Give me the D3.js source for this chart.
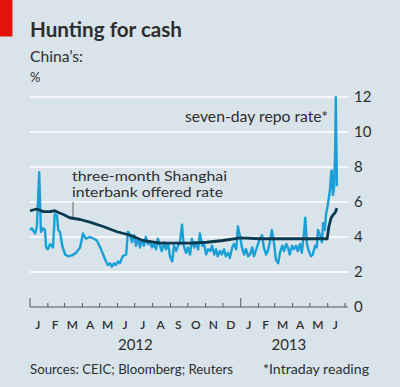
<!DOCTYPE html>
<html>
<head>
<meta charset="utf-8">
<script src="https://cdn.jsdelivr.net/npm/d3@7"></script>
<style>
  html, body { margin: 0; padding: 0; background: #d9e3ea; }
  svg { display: block; }
  text { font-family: Lato, "Open Sans", sans-serif; fill: #2e2e2e; }
</style>
</head>
<body>
<svg id="chart" width="400" height="387"></svg>
<script>
// ---- Data ----
const startDate = "2012-01-01";
const endDate = "2013-07-01";

// seven-day repo rate: days since 1 Jan 2012, values in %
const repoDays = [0,3,9,12,16,19,23,26,28,31,35,40,43,47,49,52,56,61,66,73,80,87,92,97,104,111,116,122,127,132,135,139,142,146,149,153,156,161,167,170,174,177,181,184,188,191,194,198,201,205,208,212,215,219,222,226,229,233,236,240,243,247,250,254,257,260,264,267,271,274,278,281,285,288,292,295,299,302,306,309,313,316,320,323,326,330,333,337,340,344,347,351,354,358,361,365,368,372,375,379,382,386,389,392,396,399,403,406,410,413,417,420,424,427,431,434,438,441,445,448,451,455,458,462,465,469,472,476,478,481,484,488,491,495,498,500,504,507,509,512,514,517,521,523,524,526,528,530,531,533];
const repoValues = [4.4,4.5,4.2,4.6,7.7,4.3,4.5,4.4,3.4,3.3,3.6,3.4,5.3,5.2,4.4,4.3,3.5,3.0,2.9,2.95,3.1,3.4,4.2,3.9,4.0,3.9,3.8,3.4,3.0,2.6,2.4,2.5,2.3,2.5,2.4,2.6,2.5,2.9,3.0,4.3,4.1,3.7,4.1,3.5,3.9,3.4,3.8,3.5,4.0,3.6,3.7,3.4,3.6,3.3,3.9,3.5,3.2,3.7,3.3,3.6,2.9,2.6,3.5,3.2,3.5,3.6,4.7,3.5,3.1,3.4,3.0,3.9,3.4,3.7,3.3,4.2,3.5,3.6,3.0,3.3,3.2,3.5,3.0,3.3,2.9,3.2,3.0,3.3,2.9,3.1,2.8,3.4,3.6,3.3,4.6,4.0,3.4,3.0,3.3,2.9,3.0,3.4,2.9,3.2,3.6,3.9,4.1,3.4,3.0,3.2,3.8,4.4,3.6,2.7,2.5,3.1,3.5,3.2,3.6,3.4,3.0,3.5,3.3,3.5,3.2,3.6,3.1,4.3,5.1,3.6,3.2,2.9,3.0,3.5,3.4,4.4,4.1,3.7,4.8,4.4,5.3,5.8,6.7,7.7,7.8,6.4,6.8,9.0,12.0,6.9];

// three-month Shanghai interbank offered rate
const shiborDays = [0,12,23,35,43,49,57,69,87,104,127,151,174,196,226,252,278,307,335,365,399,469,516,519,523,526,530,533];
const shiborValues = [5.5,5.6,5.45,5.45,5.5,5.4,5.3,5.1,5.0,4.85,4.6,4.3,4.1,3.8,3.65,3.65,3.65,3.7,3.8,3.95,3.9,3.9,3.9,4.6,5.1,5.25,5.4,5.65];

const yTicks = [0, 2, 4, 6, 8, 10, 12];
const monthLabels = ["J","F","M","A","M","J","J","A","S","O","N","D","J","F","M","A","M","J"];
const yearLabels = ["2012", "2013"];

// ---- Chart ----
const svg = d3.select("#chart");
const W = 400, H = 387;
svg.append("rect").attr("width", W).attr("height", H).attr("fill", "#d9e3ea");
svg.append("rect").attr("x", 0).attr("y", 0).attr("width", 12.5).attr("height", 36.5).attr("fill", "#e3120b");

const t0 = new Date(startDate + "T00:00:00Z");
const t1 = new Date(endDate + "T00:00:00Z");
const x = d3.scaleUtc().domain([t0, t1]).range([30, 345]);
const y = d3.scaleLinear().domain([0, 12]).range([307, 97]);
const xEnd = 348;

// gridlines
svg.append("g").selectAll("line").data(yTicks.filter(d => d > 0)).join("line")
  .attr("x1", 30).attr("x2", xEnd)
  .attr("y1", d => y(d)).attr("y2", d => y(d))
  .attr("stroke", "#ffffff").attr("stroke-width", 1.5);

// y labels
svg.append("g").selectAll("text").data(yTicks).join("text")
  .attr("x", 354).attr("y", d => y(d)).attr("dy", "0.36em")
  .attr("font-size", 15).text(d => d);

// x axis
const months = d3.utcMonth.range(t0, t1);
const axis = d3.axisBottom(x).tickValues(months).tickSize(0).tickFormat("");
const gx = svg.append("g").attr("transform", `translate(0,${y(0)})`).call(axis);
gx.select(".domain").remove();
svg.append("line").attr("x1", 30).attr("x2", xEnd).attr("y1", y(0)).attr("y2", y(0))
  .attr("stroke", "#555").attr("stroke-width", 1);
svg.append("g").selectAll("line").data(months.concat([t1])).join("line")
  .attr("x1", d => x(d)).attr("x2", d => x(d))
  .attr("y1", y(0)).attr("y2", d => d.getUTCMonth() === 0 ? y(0) - 9 : y(0) - 4)
  .attr("stroke", "#555").attr("stroke-width", 1);

// month labels
svg.append("g").selectAll("text").data(months).join("text")
  .attr("x", (d, i) => (x(d) + x(d3.utcMonth.offset(d, 1))) / 2 - 1)
  .attr("y", 329).attr("text-anchor", "middle")
  .attr("font-size", 12).attr("font-weight", 600).attr("fill", "#333")
  .text((d, i) => monthLabels[i]);

// year labels
const yearCenters = [
  (x(t0) + x(new Date("2013-01-01T00:00:00Z"))) / 2,
  (x(new Date("2013-01-01T00:00:00Z")) + x(t1)) / 2 - 4
];
svg.append("g").selectAll("text").data(yearLabels).join("text")
  .attr("x", (d, i) => yearCenters[i]).attr("y", 350)
  .attr("text-anchor", "middle").attr("font-size", 15).text(d => d);

// lines
const toDate = d => d3.utcDay.offset(t0, d);
const line = d3.line().x(d => x(toDate(d[0]))).y(d => y(d[1])).curve(d3.curveLinear);

svg.append("path").datum(d3.zip(repoDays, repoValues))
  .attr("d", line).attr("fill", "none")
  .attr("stroke", "#1a9fd6").attr("stroke-width", 2.4).attr("stroke-linejoin", "round");

svg.append("path").datum(d3.zip(shiborDays, shiborValues))
  .attr("d", line).attr("fill", "none")
  .attr("stroke", "#0b3a50").attr("stroke-width", 2.8).attr("stroke-linejoin", "round");

// annotations
svg.append("line").attr("x1", 73).attr("x2", 73).attr("y1", 202).attr("y2", 217)
  .attr("stroke", "#666").attr("stroke-width", 1);
function label(txt, xx, yy, size, len, weight) {
  const t = svg.append("text").attr("x", xx).attr("y", yy).attr("font-size", size).text(txt);
  if (weight) t.attr("font-weight", weight);
  if (len) t.attr("textLength", len).attr("lengthAdjust", "spacingAndGlyphs");
  return t;
}
label("seven-day repo rate*", 185, 122, 15, 143);
label("three-month Shanghai", 72, 181, 14, 155);
label("interbank offered rate", 72, 197, 14, 151);

// titles
label("Hunting for cash", 30, 37, 21, 152, 700).attr("fill", "#1a1a1a");
label("China\u2019s:", 30, 62, 15, 53);
label("%", 30, 82, 13);

// footer
label("Sources: CEIC; Bloomberg; Reuters", 30, 374, 14, 203);
label("*Intraday reading", 263, 374, 14, 106);
</script>
</body>
</html>
